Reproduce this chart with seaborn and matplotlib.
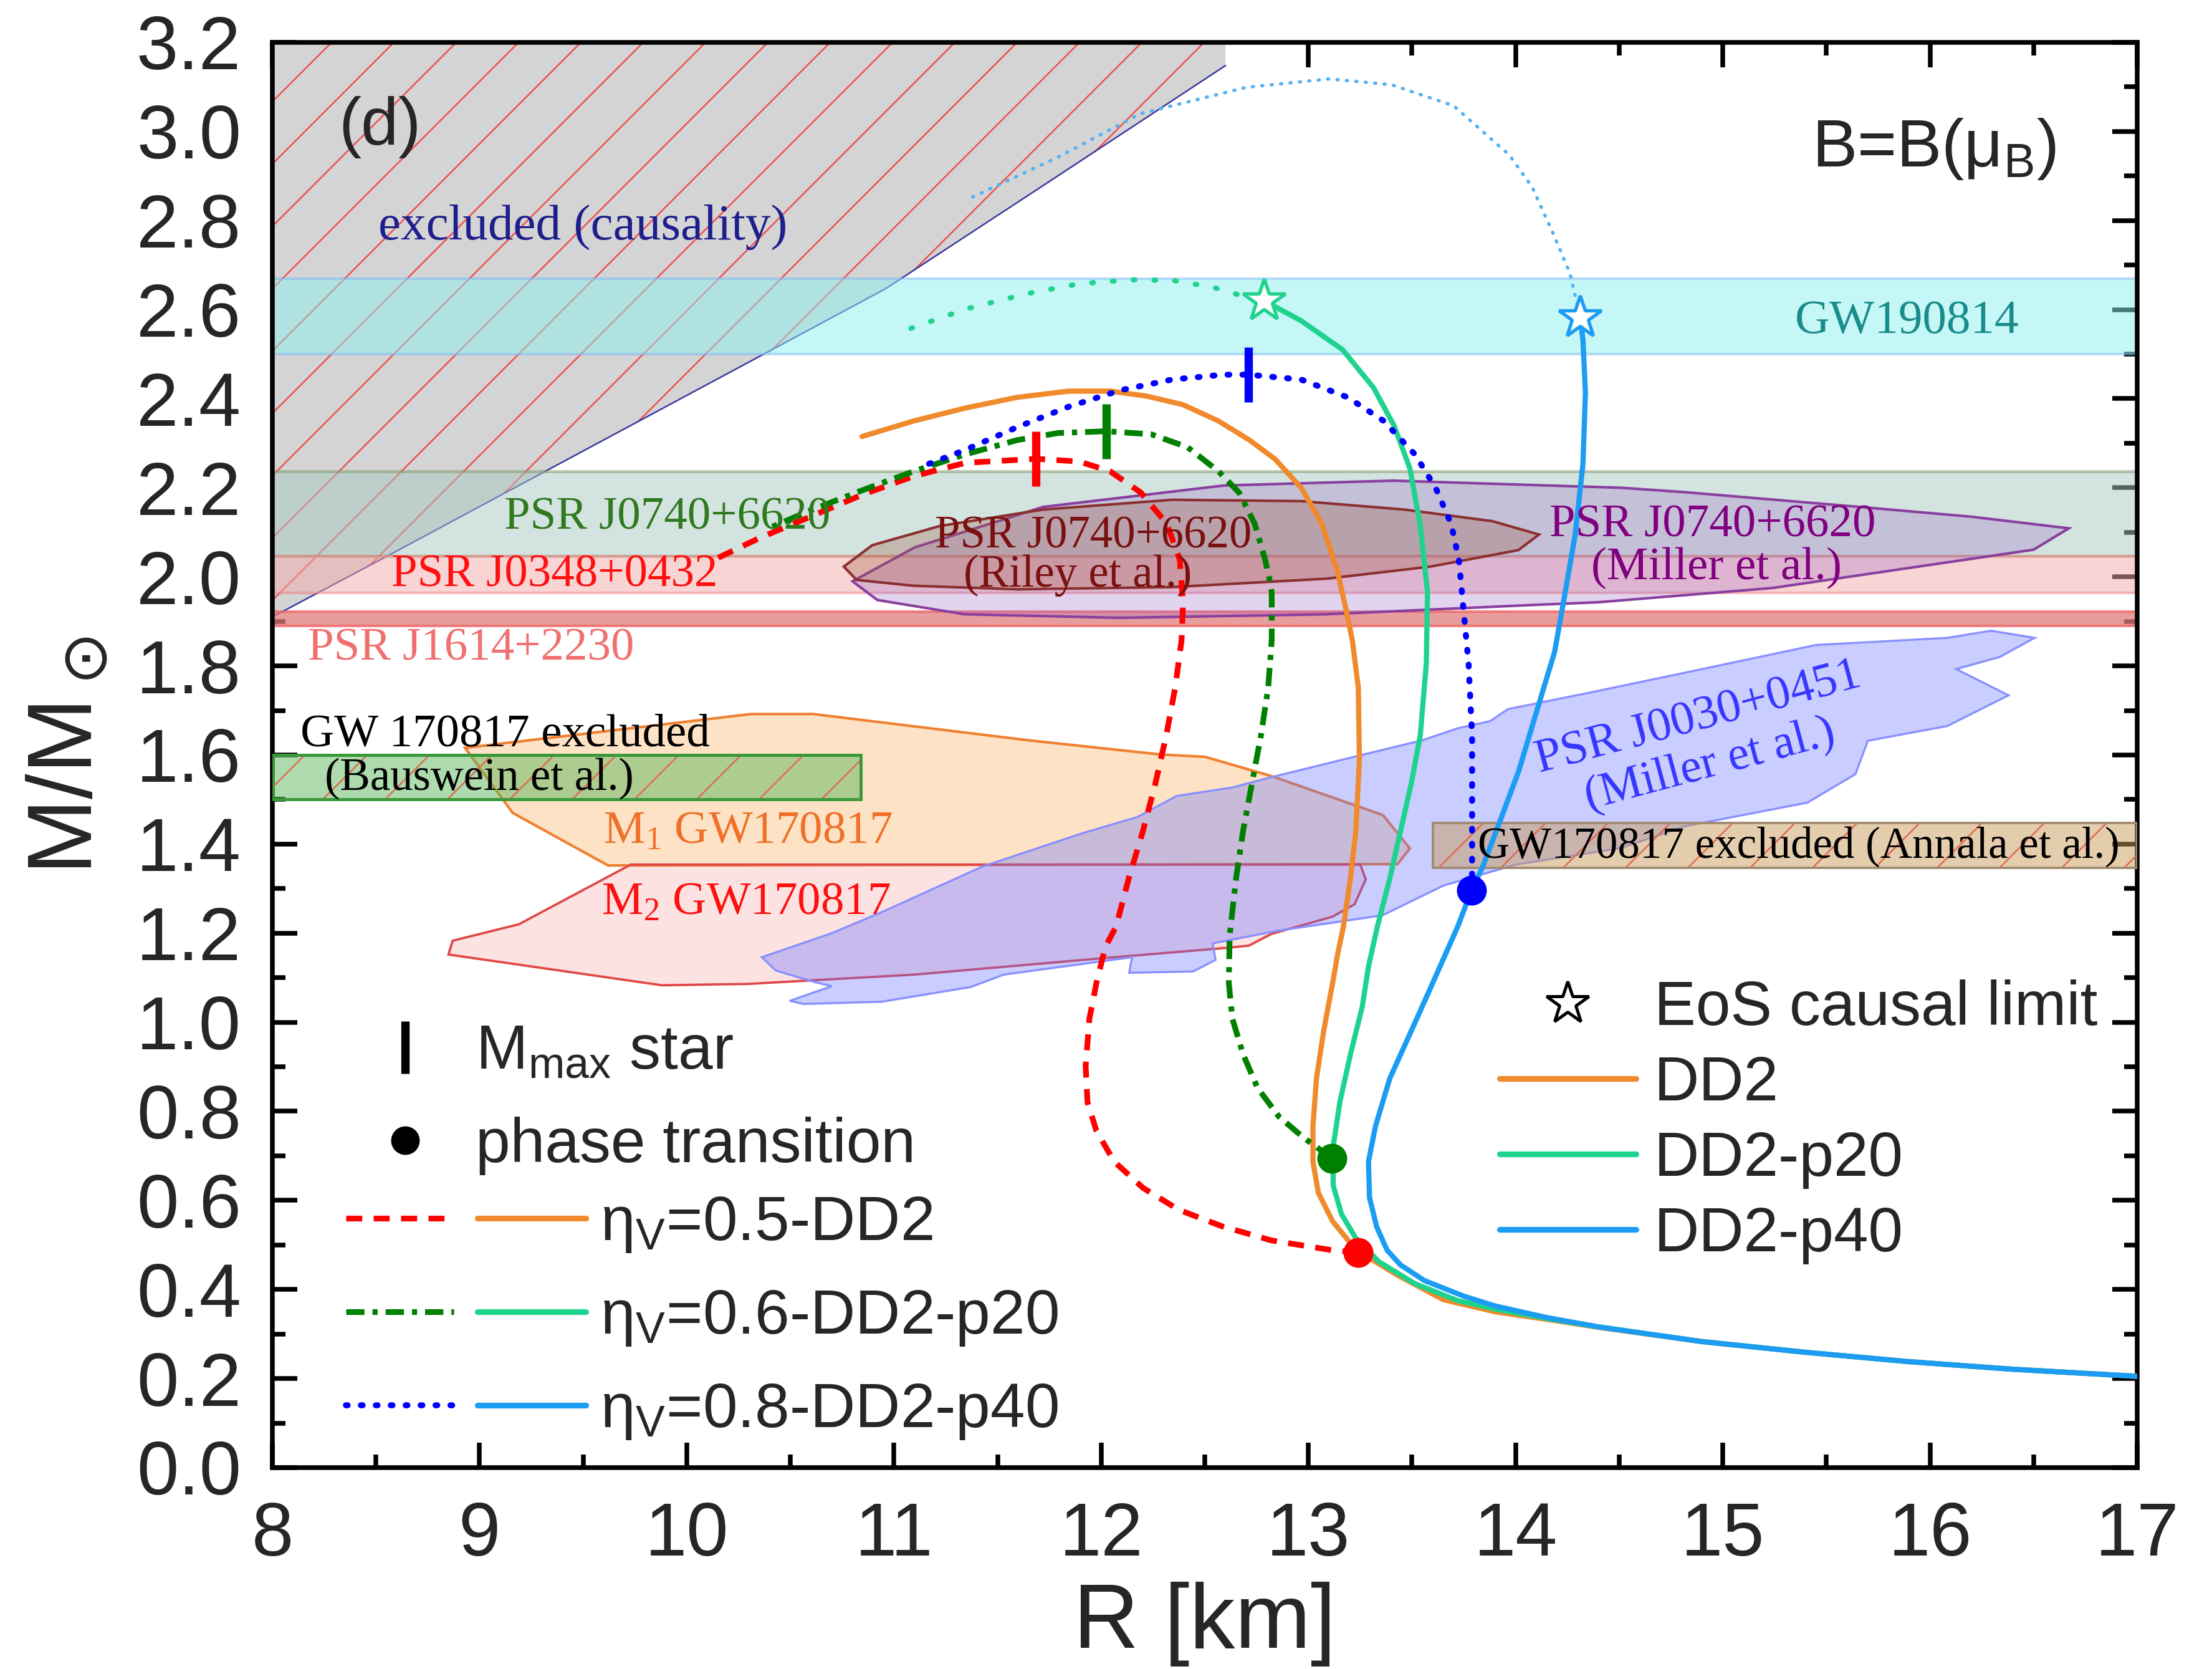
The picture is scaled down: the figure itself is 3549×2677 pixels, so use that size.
import numpy as np
import pandas as pd
import matplotlib
matplotlib.use("Agg")
import matplotlib.pyplot as plt
import seaborn as sns
from matplotlib.lines import Line2D
from matplotlib.legend_handler import HandlerTuple
from matplotlib.ticker import MultipleLocator, FormatStrFormatter

# ---------------- data ----------------
# observational mass bands [M_low, M_high]
GW190814_M = [2.50, 2.67]
J0740_M = [2.047, 2.237]
J0348_M = [1.964, 2.047]
J1614_M = [1.890, 1.922]

# causality excluded region
CAUS_R = [8.0, 8.56, 10.96, 11.79, 12.6, 12.6, 8.0]
CAUS_M = [1.91, 2.048, 2.647, 2.90, 3.148, 3.2, 3.2]

# GW170817 excluded boxes
BAUS_R = [8.0, 10.84]
BAUS_M = [1.50, 1.60]
ANNALA_R = [13.6, 17.0]
ANNALA_M = [1.347, 1.447]

# GW170817 component regions
M1_R = [8.93, 10.31, 10.61, 11.65, 12.29, 12.50, 12.82, 13.36, 13.49, 13.43, 9.62, 9.16]
M1_M = [1.616, 1.692, 1.692, 1.633, 1.601, 1.596, 1.553, 1.465, 1.390, 1.355, 1.352, 1.47]
M2_R = [9.73, 13.25, 13.277, 13.223, 13.116, 12.82, 12.713, 12.605, 12.014, 11.10, 10.564,
        10.295, 9.88, 8.85, 8.87, 9.19]
M2_M = [1.354, 1.354, 1.321, 1.265, 1.237, 1.198, 1.172, 1.167, 1.144, 1.107, 1.093,
        1.086, 1.083, 1.152, 1.183, 1.22]

# PSR J0030+0451 (Miller et al.)
J0030_R = [10.362, 10.70, 10.94, 11.424, 11.907, 12.176, 12.364, 12.632, 12.82, 13.221, 13.549,
           13.721, 13.877, 13.963, 14.357, 14.901, 15.45, 16.083, 16.294, 16.505, 16.336, 16.126,
           16.379, 16.083, 15.70, 15.64, 15.408, 14.817, 14.507, 14.002, 13.653, 13.357, 12.847,
           12.538, 12.552, 12.444, 12.135, 12.149, 11.531, 11.37, 10.94, 10.564, 10.497, 10.70,
           10.618, 10.43]
J0030_M = [1.146, 1.20, 1.247, 1.349, 1.424, 1.461, 1.508, 1.527, 1.55, 1.596, 1.633,
           1.66, 1.676, 1.703, 1.74, 1.793, 1.847, 1.863, 1.879, 1.863, 1.82, 1.793,
           1.734, 1.665, 1.632, 1.557, 1.493, 1.44, 1.391, 1.354, 1.307, 1.24, 1.205,
           1.177, 1.14, 1.114, 1.111, 1.146, 1.107, 1.079, 1.046, 1.041, 1.048, 1.081,
           1.09, 1.116]

# PSR J0740+6620 (Miller et al.) and (Riley et al.)
MILLER_R = [10.80, 10.92, 11.34, 12.09, 13.09, 14.09, 14.40, 15.24, 15.87, 16.50, 16.67,
            16.20, 15.66, 14.82, 14.51, 13.41, 12.59, 11.72, 11.10]
MILLER_M = [1.99, 1.948, 1.916, 1.908, 1.916, 1.937, 1.943, 1.975, 2.018, 2.061, 2.109,
            2.135, 2.157, 2.19, 2.20, 2.216, 2.205, 2.157, 2.066]
RILEY_R = [10.758, 10.895, 11.22, 11.718, 12.342, 12.965, 13.464, 13.888, 14.113, 14.013,
           13.589, 13.09, 12.342, 11.594, 11.095, 10.82]
RILEY_M = [2.023, 2.071, 2.114, 2.151, 2.173, 2.17, 2.151, 2.125, 2.095, 2.06,
           2.023, 1.996, 1.977, 1.972, 1.98, 1.993]

# hadronic M-R curves
DD2_R = [10.845, 11.095, 11.344, 11.594, 11.843, 12.043, 12.217, 12.392, 12.566, 12.716, 12.84,
         12.965, 13.065, 13.14, 13.18, 13.212, 13.241, 13.246, 13.229, 13.203, 13.169, 13.14,
         13.117, 13.074, 13.039, 13.022, 13.022, 13.048, 13.117, 13.203, 13.307, 13.43, 13.652,
         13.90, 14.15, 14.40, 14.899, 15.398, 15.896, 16.395, 17.0]
DD2_M = [2.315, 2.350, 2.379, 2.403, 2.417, 2.417, 2.406, 2.387, 2.350, 2.307, 2.264,
         2.200, 2.119, 2.012, 1.93, 1.858, 1.751, 1.590, 1.430, 1.323, 1.215, 1.15,
         1.088, 0.981, 0.874, 0.767, 0.687, 0.617, 0.553, 0.504, 0.467, 0.432, 0.377,
         0.350, 0.333, 0.315, 0.283, 0.259, 0.238, 0.221, 0.205]

P20_R = [12.786, 12.965, 13.165, 13.314, 13.414, 13.49, 13.539, 13.575, 13.569, 13.54, 13.497,
         13.445, 13.393, 13.333, 13.29, 13.26, 13.203, 13.152, 13.117, 13.12, 13.16, 13.229,
         13.341, 13.514, 13.721, 13.901, 14.15, 14.40, 14.899, 15.398, 15.896, 16.395, 17.0]
P20_M = [2.620, 2.575, 2.510, 2.425, 2.339, 2.243, 2.119, 1.965, 1.805, 1.644, 1.537,
         1.430, 1.323, 1.215, 1.125, 1.035, 0.928, 0.821, 0.713, 0.633, 0.569, 0.515,
         0.462, 0.413, 0.375, 0.356, 0.335, 0.316, 0.283, 0.259, 0.238, 0.221, 0.205]

P40_R = [14.312, 14.325, 14.337, 14.325, 14.287, 14.237, 14.188, 14.101, 14.015, 13.929, 13.842,
         13.787, 13.721, 13.635, 13.6, 13.497, 13.393, 13.324, 13.29, 13.295, 13.33, 13.38,
         13.445, 13.56, 13.75, 13.901, 14.15, 14.40, 14.899, 15.398, 15.896, 16.395, 17.0]
P40_M = [2.583, 2.532, 2.414, 2.253, 2.093, 1.959, 1.831, 1.697, 1.564, 1.457, 1.350,
         1.296, 1.215, 1.125, 1.088, 0.981, 0.874, 0.767, 0.687, 0.606, 0.54, 0.488,
         0.455, 0.42, 0.385, 0.363, 0.337, 0.316, 0.283, 0.259, 0.238, 0.221, 0.205]

# beyond the EoS causal limit
P20_ACAUS_R = [11.082, 11.344, 11.643, 11.893, 12.142, 12.342, 12.541, 12.666, 12.786]
P20_ACAUS_M = [2.558, 2.601, 2.636, 2.658, 2.667, 2.666, 2.650, 2.633, 2.620]
P40_ACAUS_R = [11.38, 11.79, 12.19, 12.70, 13.10, 13.40, 13.70, 13.97, 14.08, 14.184, 14.262, 14.312]
P40_ACAUS_M = [2.853, 2.942, 3.040, 3.099, 3.118, 3.105, 3.058, 2.947, 2.875, 2.768, 2.682, 2.583]

# hybrid-star curves
ETA05_R = [13.241, 13.117, 12.823, 12.582, 12.374, 12.202, 12.063, 11.977, 11.934, 11.925, 11.943,
           11.977, 12.02, 12.072, 12.133, 12.202, 12.262, 12.314, 12.357, 12.388, 12.395, 12.379,
           12.317, 12.192, 12.043, 11.893, 11.686, 11.344, 11.095, 10.845, 10.596, 10.35, 10.13]
ETA05_M = [0.483, 0.488, 0.510, 0.542, 0.579, 0.628, 0.687, 0.756, 0.820, 0.901, 1.008,
           1.088, 1.169, 1.215, 1.323, 1.430, 1.537, 1.644, 1.751, 1.858, 1.94, 2.039,
           2.119, 2.189, 2.237, 2.259, 2.265, 2.256, 2.226, 2.184, 2.135, 2.087, 2.038]
ETA06_R = [13.113, 12.979, 12.858, 12.754, 12.685, 12.633, 12.616, 12.62, 12.651, 12.685, 12.728,
           12.771, 12.806, 12.823, 12.823, 12.81, 12.791, 12.741, 12.666, 12.566, 12.417, 12.242,
           12.025, 11.793, 11.594, 11.344, 11.095, 10.845, 10.596, 10.40]
ETA06_M = [0.695, 0.740, 0.788, 0.853, 0.928, 1.008, 1.088, 1.195, 1.323, 1.430, 1.537,
           1.644, 1.751, 1.858, 1.965, 2.0, 2.039, 2.119, 2.189, 2.237, 2.291, 2.320,
           2.327, 2.323, 2.307, 2.275, 2.237, 2.194, 2.149, 2.11]
ETA08_R = [13.787, 13.79, 13.79, 13.79, 13.773, 13.75, 13.726, 13.689, 13.614, 13.514, 13.364,
           13.19, 12.965, 12.711, 12.591, 12.342, 12.093, 11.843, 11.594, 11.344, 11.12]
ETA08_M = [1.296, 1.323, 1.483, 1.644, 1.805, 1.92, 2.039, 2.119, 2.200, 2.275, 2.350,
           2.403, 2.443, 2.454, 2.454, 2.443, 2.419, 2.382, 2.336, 2.285, 2.245]

# special points
MMAX_R = [11.686, 12.025, 12.711]
MMAX_M = [2.265, 2.327, 2.454]
PT_R = [13.241, 13.113, 13.787]
PT_M = [0.483, 0.695, 1.296]
STAR_R = [12.786, 14.312]
STAR_M = [2.620, 2.583]

X_TICKS = list(range(8, 18))
ETA_LABELS = ["η$\\mathregular{_V}$=0.5-DD2", "η$\\mathregular{_V}$=0.6-DD2-p20",
              "η$\\mathregular{_V}$=0.8-DD2-p40"]
HADRON_LABELS = ["DD2", "DD2-p20", "DD2-p40"]

# ---------------- colours ----------------
C_DD2 = "#F08A2C"
C_P20 = "#1FD38F"
C_P40 = "#1C9CF2"
C_ETA05 = "#FF0000"
C_ETA06 = "#008000"
C_ETA08 = "#0000FF"
C_P40_ACAUS = "#55B2F2"

LS_ETA05 = (0, (2.8, 2.0))
LS_ETA06 = (0, (3.2, 1.4, 0.9, 1.4))
LS_ETA08 = (0, (0.3, 2.2))

# ---------------- style ----------------
sns.set_theme(style="ticks")
plt.rcParams["font.family"] = ["Liberation Sans", "DejaVu Sans"]
plt.rcParams["hatch.linewidth"] = 0.6
plt.rcParams["axes.linewidth"] = 1.8
SERIF = ["Liberation Serif", "DejaVu Serif"]

fig = plt.figure(figsize=(3549 / 300, 2677 / 300), dpi=300)
fig.patch.set_facecolor("white")
ax = fig.add_axes([0.12313, 0.12066, 0.84306, 0.85394])
ax.set_facecolor("white")

# ---------------- regions ----------------
# causality
ax.fill(CAUS_R, CAUS_M, facecolor="#d4d4d4", edgecolor="none", zorder=1)
ax.fill(CAUS_R, CAUS_M, facecolor="none", edgecolor="#f05050", lw=0, hatch="/", zorder=1.1)
ax.plot(CAUS_R[:5], CAUS_M[:5], color="#3a3aa0", lw=0.6, zorder=1.2)

# horizontal bands
ax.axhspan(*GW190814_M, facecolor="#8df1f1", alpha=0.5, edgecolor="#7fb8f5", lw=1.0, zorder=2)
ax.axhspan(*J0740_M, facecolor="#a9c9c3", alpha=0.5, edgecolor="#7f9a6a", lw=1.2, zorder=2)
ax.axhspan(*J0348_M, facecolor="#f3abab", alpha=0.5, edgecolor="#f08080", lw=1.0, zorder=2)
ax.axhspan(*J1614_M, facecolor="#e07c7c", alpha=0.75, edgecolor="#f06060", lw=1.0, zorder=2)

# J0740 contours
ax.fill(MILLER_R, MILLER_M, facecolor="#a070c8", alpha=0.3, edgecolor="none", zorder=3)
ax.fill(MILLER_R, MILLER_M, facecolor="none", edgecolor="#8a3f9e", lw=1.0, zorder=3.1)
ax.fill(RILEY_R, RILEY_M, facecolor="#a05a40", alpha=0.3, edgecolor="none", zorder=3.2)
ax.fill(RILEY_R, RILEY_M, facecolor="none", edgecolor="#8b3030", lw=1.0, zorder=3.3)

# GW170817 components
ax.fill(M1_R, M1_M, facecolor="#fbb870", alpha=0.4, edgecolor="none", zorder=3)
ax.fill(M1_R, M1_M, facecolor="none", edgecolor="#f08030", lw=1.0, zorder=3.1)
ax.fill(M2_R, M2_M, facecolor="#f77070", alpha=0.2, edgecolor="none", zorder=3)
ax.fill(M2_R, M2_M, facecolor="none", edgecolor="#e04848", lw=0.9, zorder=3.1)

# J0030
ax.fill(J0030_R, J0030_M, facecolor="#6670ff", alpha=0.35, edgecolor="none", zorder=3.4)
ax.fill(J0030_R, J0030_M, facecolor="none", edgecolor="#8890ff", lw=0.8, zorder=3.5)

# excluded boxes
bx = [BAUS_R[0], BAUS_R[1], BAUS_R[1], BAUS_R[0]]
by = [BAUS_M[0], BAUS_M[0], BAUS_M[1], BAUS_M[1]]
ax.fill(bx, by, facecolor="#5cb85c", alpha=0.5, edgecolor="none", zorder=3.6)
ax.fill(bx, by, facecolor="none", edgecolor="#e06a50", lw=0, hatch="/", zorder=3.7)
ax.fill(bx, by, facecolor="none", edgecolor="#3a9a3a", lw=1.2, zorder=3.8)
axx = [ANNALA_R[0], ANNALA_R[1], ANNALA_R[1], ANNALA_R[0]]
axy = [ANNALA_M[0], ANNALA_M[0], ANNALA_M[1], ANNALA_M[1]]
ax.fill(axx, axy, facecolor="#c89c5c", alpha=0.5, edgecolor="none", zorder=3.6)
ax.fill(axx, axy, facecolor="none", edgecolor="#e06a50", lw=0, hatch="/", zorder=3.7)
ax.fill(axx, axy, facecolor="none", edgecolor="#a08a70", lw=0.9, zorder=3.8)

# ---------------- curves ----------------
def curve(R, M, color, lw=2.0, ls="-", z=5, cap="butt"):
    df = pd.DataFrame({"R": R, "M": M})
    sns.lineplot(data=df, x="R", y="M", sort=False, estimator=None, color=color,
                 lw=lw, linestyle=ls, dash_capstyle=cap, ax=ax, legend=False, zorder=z)

curve(P20_ACAUS_R, P20_ACAUS_M, C_P20, lw=2.0, ls=(0, (0.3, 3.7)), cap="round")
curve(P40_ACAUS_R, P40_ACAUS_M, C_P40_ACAUS, lw=1.3, ls=(0, (0.3, 2.5)), cap="round")
curve(DD2_R, DD2_M, C_DD2)
curve(P20_R, P20_M, C_P20)
curve(P40_R, P40_M, C_P40)
curve(ETA05_R, ETA05_M, C_ETA05, lw=2.2, ls=LS_ETA05, z=5.5)
curve(ETA06_R, ETA06_M, C_ETA06, lw=2.2, ls=LS_ETA06, z=5.5)
curve(ETA08_R, ETA08_M, C_ETA08, lw=2.3, ls=LS_ETA08, z=5.5, cap="round")

# markers
for r, m, c in zip(MMAX_R, MMAX_M, [C_ETA05, C_ETA06, C_ETA08]):
    ax.plot([r], [m], marker="|", color=c, ms=21, mew=3.2, ls="none", zorder=6)
for r, m, c in zip(PT_R, PT_M, [C_ETA05, C_ETA06, C_ETA08]):
    ax.plot([r], [m], marker="o", color=c, ms=10.5, mec=c, ls="none", zorder=6)
for r, m, c in zip(STAR_R, STAR_M, [C_P20, C_P40]):
    ax.plot([r], [m], marker="*", mfc="white", mec=c, ms=17, mew=1.3, ls="none", zorder=6)

# ---------------- annotations ----------------
ax.text(8.52, 3.01, "(d)", fontsize=26, ha="center", va="center", zorder=8)
ax.text(16.02, 2.96, "B=B(μ$\\mathregular{_B}$)", fontsize=26, ha="center", va="center", zorder=8)
ax.text(9.50, 2.785, "excluded (causality)", family=SERIF, fontsize=19.5, color="#1e1e8c",
        ha="center", va="center", zorder=8)
ax.text(15.89, 2.573, "GW190814", family=SERIF, fontsize=18.5, color="#1a8c8c",
        ha="center", va="center", zorder=8)
ax.text(9.906, 2.132, "PSR J0740+6620", family=SERIF, fontsize=18, color="#2f7a1f",
        ha="center", va="center", zorder=8)
ax.text(9.361, 2.003, "PSR J0348+0432", family=SERIF, fontsize=18, color="#ff1010",
        ha="center", va="center", zorder=8)
ax.text(8.96, 1.838, "PSR J1614+2230", family=SERIF, fontsize=18, color="#f07070",
        ha="center", va="center", zorder=8)
ax.text(11.962, 2.09, "PSR J0740+6620", family=SERIF, fontsize=17.5, color="#7a1010",
        ha="center", va="center", zorder=8)
ax.text(11.887, 2.003, "(Riley et al.)", family=SERIF, fontsize=17.5, color="#7a1010",
        ha="center", va="center", zorder=8)
ax.text(14.95, 2.115, "PSR J0740+6620", family=SERIF, fontsize=18, color="#800080",
        ha="center", va="center", zorder=8)
ax.text(14.97, 2.02, "(Miller et al.)", family=SERIF, fontsize=18, color="#800080",
        ha="center", va="center", zorder=8)
ax.text(9.123, 1.645, "GW 170817 excluded", family=SERIF, fontsize=18, color="black",
        ha="center", va="center", zorder=8)
ax.text(9.0, 1.546, "(Bauswein et al.)", family=SERIF, fontsize=17.5, color="black",
        ha="center", va="center", zorder=8)
ax.text(10.294, 1.426, "M$\\mathregular{_1}$ GW170817", family=SERIF, fontsize=18,
        color="#f07028", ha="center", va="center", zorder=8)
ax.text(10.287, 1.267, "M$\\mathregular{_2}$ GW170817", family=SERIF, fontsize=18,
        color="#ff1010", ha="center", va="center", zorder=8)
ax.text(14.882, 1.683, "PSR J0030+0451", family=SERIF, fontsize=18.5, color="#3535ff",
        ha="center", va="center", rotation=15, rotation_mode="anchor", zorder=8)
ax.text(14.937, 1.578, "(Miller et al.)", family=SERIF, fontsize=18.5, color="#3535ff",
        ha="center", va="center", rotation=15, rotation_mode="anchor", zorder=8)
ax.text(15.366, 1.394, "GW170817 excluded (Annala et al.)", family=SERIF, fontsize=17,
        color="black", ha="center", va="center", zorder=8)

# ---------------- axes ----------------
ax.set_xlim(8, 17)
ax.set_ylim(0, 3.2)
ax.xaxis.set_major_locator(MultipleLocator(1))
ax.xaxis.set_minor_locator(MultipleLocator(0.5))
ax.yaxis.set_major_locator(MultipleLocator(0.2))
ax.yaxis.set_minor_locator(MultipleLocator(0.1))
ax.yaxis.set_major_formatter(FormatStrFormatter("%.1f"))
ax.set_xticks(X_TICKS)
ax.tick_params(which="both", direction="in", top=True, right=True, width=1.8, color="black")
ax.tick_params(which="major", length=9.5)
ax.tick_params(which="minor", length=5)
ax.tick_params(axis="x", labelsize=29, pad=13)
ax.tick_params(axis="y", labelsize=29, pad=12)
for s in ax.spines.values():
    s.set_color("black")
    s.set_linewidth(1.8)
ax.set_xlabel("R [km]", fontsize=35, labelpad=4)
ax.set_ylabel("M/M$_\\odot$", fontsize=35, labelpad=10)

# ---------------- legends ----------------
h_mmax = Line2D([], [], marker="|", color="black", ms=20, mew=3.2, ls="none")
h_pt = Line2D([], [], marker="o", color="black", ms=10, ls="none")
legA = ax.legend([h_mmax, h_pt], ["M$\\mathregular{_{max}}$ star", "phase transition"],
                 loc="center left", bbox_to_anchor=(0.0443, 0.2585), frameon=False,
                 fontsize=24, handlelength=1.6, handletextpad=0.33, labelspacing=0.55,
                 borderpad=0, borderaxespad=0)
ax.add_artist(legA)

def lh(c, ls, lw=2.2, cap="butt"):
    return Line2D([], [], color=c, ls=ls, lw=lw, dash_capstyle=cap)

eta_handles = [(lh(C_ETA05, LS_ETA05), lh(C_DD2, "-")),
               (lh(C_ETA06, LS_ETA06), lh(C_P20, "-")),
               (lh(C_ETA08, LS_ETA08, lw=2.3, cap="round"), lh(C_P40, "-"))]
legB = ax.legend(eta_handles, ETA_LABELS, handler_map={tuple: HandlerTuple(ndivide=None, pad=0.385)},
                 loc="center left", bbox_to_anchor=(0.0393, 0.105), frameon=False,
                 fontsize=24, handlelength=3.85, handletextpad=0.23, labelspacing=0.54,
                 borderpad=0, borderaxespad=0)
ax.add_artist(legB)

h_star = Line2D([], [], marker="*", mfc="white", mec="black", ms=17, mew=1.2, ls="none")
legC = ax.legend([h_star, lh(C_DD2, "-"), lh(C_P20, "-"), lh(C_P40, "-")],
                 ["EoS causal limit"] + HADRON_LABELS,
                 loc="center left", bbox_to_anchor=(0.658, 0.2425), frameon=False,
                 fontsize=24, handlelength=2.19, handletextpad=0.29, labelspacing=0.27,
                 borderpad=0, borderaxespad=0)

fig.savefig("out.png", dpi=300, facecolor="white")
